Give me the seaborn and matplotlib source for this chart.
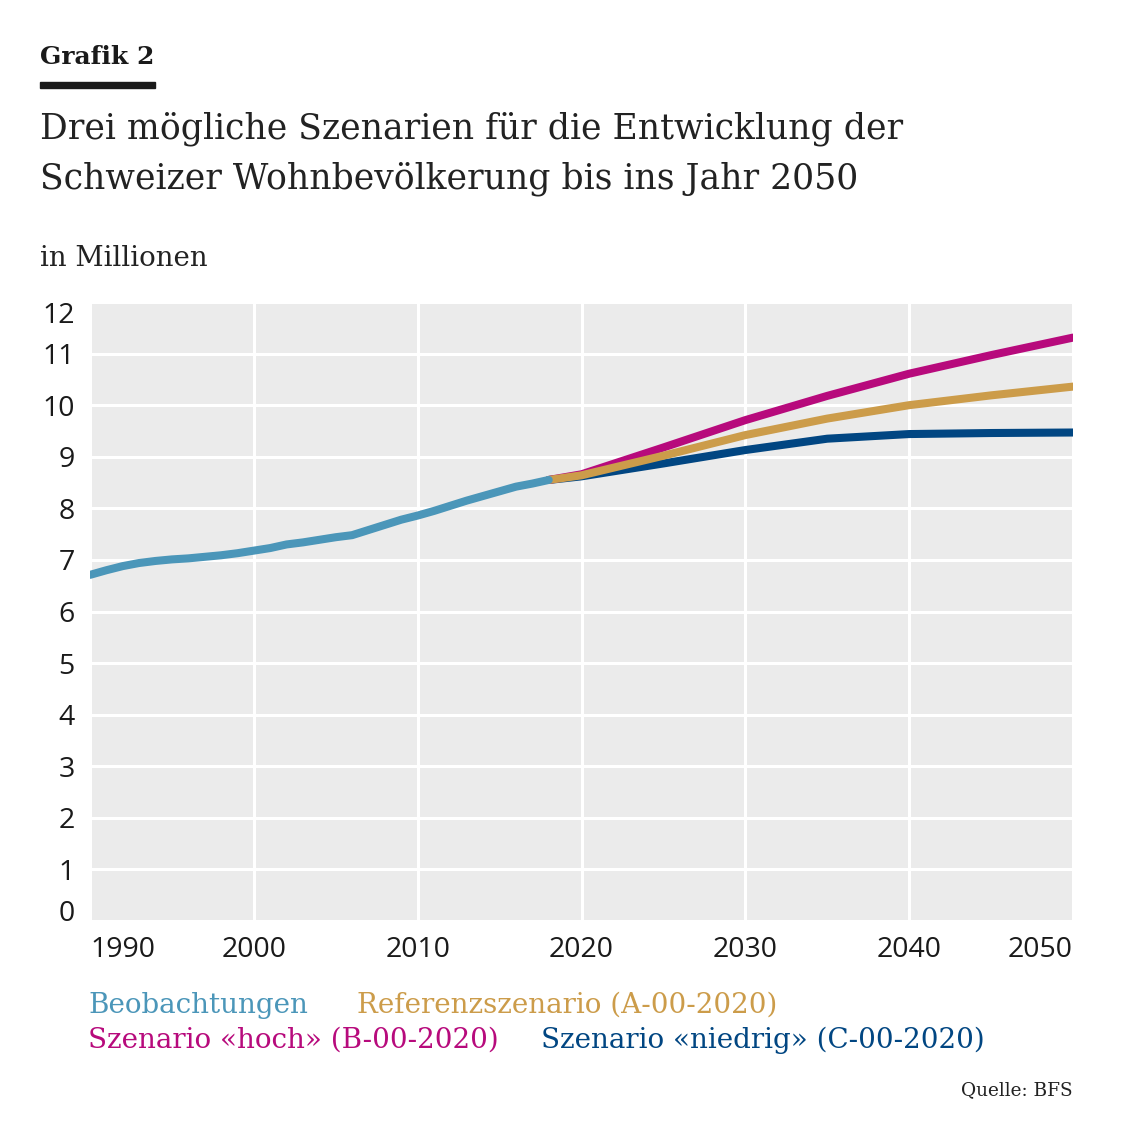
import matplotlib
matplotlib.use("Agg")
import matplotlib.pyplot as plt
from matplotlib.patches import Rectangle
import seaborn as sns
import pandas as pd

# Beobachtungen 1990-2018 (Mio.)
obs_years = list(range(1990, 2019))
obs_values = [6.71, 6.80, 6.88, 6.94, 6.98, 7.01, 7.03, 7.06, 7.09, 7.13,
              7.18, 7.23, 7.30, 7.34, 7.39, 7.44, 7.48, 7.58, 7.68, 7.78,
              7.86, 7.95, 8.05, 8.15, 8.24, 8.33, 8.42, 8.48, 8.55]

# Szenarien 2018-2050
sc_years = [2018, 2020, 2025, 2030, 2035, 2040, 2045, 2050]
ref_values = [8.55, 8.64, 9.02, 9.42, 9.74, 10.00, 10.19, 10.36]
high_values = [8.55, 8.66, 9.18, 9.71, 10.18, 10.61, 10.97, 11.31]
low_values = [8.55, 8.62, 8.87, 9.13, 9.35, 9.44, 9.46, 9.47]

x_ticks = [1990, 2000, 2010, 2020, 2030, 2040, 2050]
y_ticks = list(range(0, 13))

labels = {
    "obs": "Beobachtungen",
    "ref": "Referenzszenario (A-00-2020)",
    "high": "Szenario «hoch» (B-00-2020)",
    "low": "Szenario «niedrig» (C-00-2020)",
}
colors = {
    "obs": "#4b96b9",
    "ref": "#cc9c4a",
    "high": "#b70a7c",
    "low": "#014682",
}

df_obs = pd.DataFrame({"Jahr": obs_years, "Wert": obs_values})
df_ref = pd.DataFrame({"Jahr": sc_years, "Wert": ref_values})
df_high = pd.DataFrame({"Jahr": sc_years, "Wert": high_values})
df_low = pd.DataFrame({"Jahr": sc_years, "Wert": low_values})

sns.set_theme(style="darkgrid", rc={
    "axes.facecolor": "#ebebeb",
    "grid.color": "white",
    "grid.linewidth": 2.2,
})

W, H = 1146, 1125
fig = plt.figure(figsize=(W / 100, H / 100), dpi=100)
ax = fig.add_axes([90 / W, 1 - 921 / H, (1073 - 90) / W, (921 - 302) / H])

lw = 5.8
for df, key in [(df_low, "low"), (df_high, "high"), (df_ref, "ref"), (df_obs, "obs")]:
    sns.lineplot(data=df, x="Jahr", y="Wert", ax=ax, color=colors[key],
                 linewidth=lw, solid_capstyle="round", legend=False)

ax.set_xlim(1990, 2050)
ax.set_ylim(0, 12)
ax.set_xticks(x_ticks)
ax.set_yticks(y_ticks)
ax.set_xlabel("")
ax.set_ylabel("")
for s in ax.spines.values():
    s.set_visible(False)

tick_font = dict(family="Open Sans", size=20.5, weight="medium", color="#1a1a1a")
ax.set_xticklabels([str(t) for t in x_ticks], **tick_font)
ax.set_yticklabels([str(t) for t in y_ticks], **tick_font)
ax.tick_params(axis="x", length=0, pad=11)
ax.tick_params(axis="y", length=0, pad=11)
xl = ax.get_xticklabels()
xl[0].set_ha("left")
xl[-1].set_ha("right")
yl = ax.get_yticklabels()
yl[0].set_va("baseline")
yl[-1].set_va("top")

serif = "DejaVu Serif"
def fy(y):
    return 1 - y / H

fig.text(40 / W, fy(64), "Grafik 2", family=serif, weight="bold", size=18,
         color="#1a1a1a", va="baseline")
fig.patches.append(Rectangle((40 / W, fy(88)), 115 / W, 6 / H,
                             transform=fig.transFigure, color="#1a1a1a"))
fig.text(40 / W, fy(139), "Drei mögliche Szenarien für die Entwicklung der",
         family=serif, size=24.9, color="#222222", va="baseline")
fig.text(40 / W, fy(188), "Schweizer Wohnbevölkerung bis ins Jahr 2050",
         family=serif, size=24.9, color="#222222", va="baseline")
fig.text(40 / W, fy(266), "in Millionen", family=serif, size=19.9,
         color="#222222", va="baseline")

leg_size = 20
fig.text(88 / W, fy(1013), labels["obs"], family=serif, size=leg_size,
         color=colors["obs"], va="baseline")
fig.text(357 / W, fy(1013), labels["ref"], family=serif, size=leg_size,
         color=colors["ref"], va="baseline")
fig.text(88 / W, fy(1048), labels["high"], family=serif, size=leg_size,
         color=colors["high"], va="baseline")
fig.text(541 / W, fy(1048), labels["low"], family=serif, size=leg_size,
         color=colors["low"], va="baseline")
fig.text(1073 / W, fy(1095), "Quelle: BFS", family=serif, size=13.3,
         color="#222222", va="baseline", ha="right")

fig.savefig("out.png", dpi=100)
plt.close(fig)
